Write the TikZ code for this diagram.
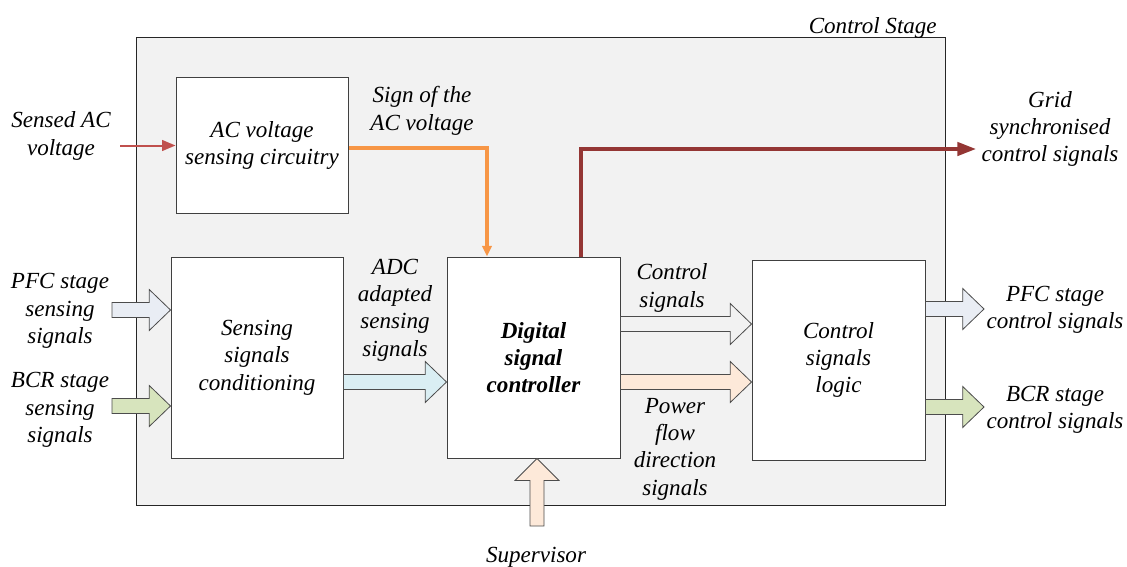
\documentclass[tikz,border=0pt]{standalone}
\usepackage{fontspec}
\setmainfont{Liberation Serif}
\newfontfamily\tmsfont{Liberation Serif}
\usetikzlibrary{arrows.meta,calc}
\definecolor{bgc}{HTML}{F2F2F2}
\definecolor{redc}{HTML}{C0504D}
\definecolor{orc}{HTML}{F79646}
\definecolor{drc}{HTML}{943634}
\definecolor{bluec}{HTML}{DAEEF3}
\definecolor{pfcc}{HTML}{E9EDF4}
\definecolor{bcrc}{HTML}{D7E4BD}
\definecolor{peachc}{HTML}{FDE9D9}
% horizontal fat arrow: style, start, tip
\newcommand\harrow[3]{\draw[#1] let \p1=#2, \p2=#3 in
  (\x1,\y1+5.6pt) -- (\x2-16pt,\y1+5.6pt) -- (\x2-16pt,\y1+15.4pt) -- (\x2,\y1)
  -- (\x2-16pt,\y1-15.4pt) -- (\x2-16pt,\y1-5.6pt) -- (\x1,\y1-5.6pt) -- cycle;}
% vertical fat arrow pointing up: style, start, tip
\newcommand\varrow[3]{\draw[#1] let \p1=#2, \p2=#3 in
  (\x2-5.25pt,\y1) -- (\x2-5.25pt,\y2-16.5pt) -- (\x2-16.5pt,\y2-16.5pt) -- (\x2,\y2)
  -- (\x2+16.5pt,\y2-16.5pt) -- (\x2+5.25pt,\y2-16.5pt) -- (\x2+5.25pt,\y1) -- cycle;}
\begin{document}
\begin{tikzpicture}[x=0.75pt,y=-0.75pt,
  font=\tmsfont\fontsize{17.3}{20.5}\selectfont\itshape,
  box/.style={draw=black!75, fill=white, line width=0.75pt, align=center, inner sep=0pt},
  lbl/.style={align=center, inner sep=0pt},
  fat/.style={draw=black!70, line width=0.6pt, line join=miter}]
\useasboundingbox (0,0) rectangle (1127,567);

% outer stage
\node[draw=black!85, fill=bgc, line width=0.75pt, minimum width=606.75pt, minimum height=350.25pt, inner sep=0pt] (stage) at (540.5,271.5) {};
\node[lbl, anchor=east] (stagelbl) at (937,28) {Control Stage};

% blocks
\node[box, minimum width=129pt, minimum height=101.25pt] (ac) at (262,145.5) {AC voltage\\sensing circuitry};
\node[box, minimum width=129pt, minimum height=150.75pt] (ssc) at (257,357.5) {Sensing\\signals\\conditioning};
\node[box, minimum width=129.75pt, minimum height=150.75pt] (dsc) at (533.5,357.5) {\bfseries Digital\\\bfseries signal\\\bfseries controller};
\node[box, minimum width=129.75pt, minimum height=150pt] (csl) at (838.5,360) {Control\\signals\\logic};

% labels
\node[lbl] (sac) at (61,136) {Sensed AC\\voltage};
\node[lbl] (sign) at (422,111) {Sign of the\\AC voltage};
\node[lbl] (grid) at (1050,129) {Grid\\synchronised\\control signals};
\node[lbl] (adc) at (395,310) {ADC\\adapted\\sensing\\signals};
\node[lbl] (ctl) at (672,288) {Control\\signals};
\node[lbl] (pwr) at (675,449) {Power\\flow\\direction\\signals};
\node[lbl] (pfcs) at (60,311) {PFC stage\\sensing\\signals};
\node[lbl] (bcrs) at (60,410) {BCR stage\\sensing\\signals};
\node[lbl] (pfco) at (1055,310) {PFC stage\\control signals};
\node[lbl] (bcro) at (1055,410) {BCR stage\\control signals};
\node[lbl] (sup) at (536,557) {Supervisor};

% coordinates
\coordinate (sacin) at (120,145.5);
\coordinate (orx) at (487,0);
\coordinate (drx) at (581,0);
\coordinate (gridout) at (976,149);
\coordinate (pfcin) at (112,310);
\coordinate (bcrin) at (112,406);
\coordinate (adcy) at (0,382);
\coordinate (ctly) at (0,324);
\coordinate (pwry) at (0,382);
\coordinate (pfcout) at (984,309);
\coordinate (bcrout) at (984,407);
\coordinate (supin) at (0,526);
\coordinate (supx) at (537,0);

% thin connectors
\draw[redc, line width=1.5pt, -{Triangle[length=10pt,width=8pt]}] (sacin) -- (ac.west);
\draw[orc, line width=2.6pt, -{Triangle[length=8pt,width=7pt]}] (ac.east |- 0,148) -| (dsc.north -| orx);
\draw[drc, line width=2.6pt, -{Triangle[length=14pt,width=10pt]}] (dsc.north -| drx) |- (gridout);

% fat arrows
\harrow{fat, fill=pfcc}{(pfcin)}{(ssc.west |- pfcin)}
\harrow{fat, fill=bcrc}{(bcrin)}{(ssc.west |- bcrin)}
\harrow{fat, fill=bluec}{(ssc.east |- adcy)}{(dsc.west |- adcy)}
\harrow{fat, fill=bgc}{(dsc.east |- ctly)}{(csl.west |- ctly)}
\harrow{fat, fill=peachc}{(dsc.east |- pwry)}{(csl.west |- pwry)}
\harrow{fat, fill=pfcc}{(csl.east |- pfcout)}{(pfcout)}
\harrow{fat, fill=bcrc}{(csl.east |- bcrout)}{(bcrout)}
\varrow{fat, fill=peachc}{(supx |- supin)}{(supx |- dsc.south)}
\end{tikzpicture}
\end{document}
